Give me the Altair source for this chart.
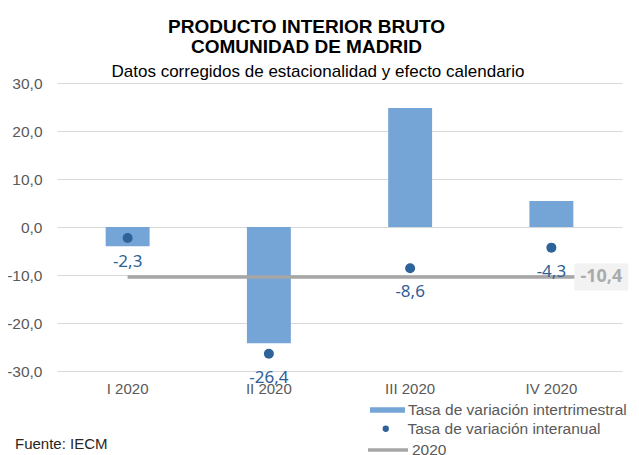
import altair as alt
import pandas as pd

# ---- data ----
trimestres = ["I 2020", "II 2020", "III 2020", "IV 2020"]
intertrimestral = [-4.0, -24.2, 24.8, 5.4]
interanual = [-2.3, -26.4, -8.6, -4.3]
anual_2020 = -10.4
serie_bar = "Tasa de variación intertrimestral"
serie_pt = "Tasa de variación interanual"
serie_line = "2020"
y_ticks = [-30, -20, -10, 0, 10, 20, 30]

df = pd.DataFrame({
    "trimestre": trimestres,
    "intertrimestral": intertrimestral,
    "interanual": interanual,
    "s_bar": [serie_bar] * 4,
    "s_pt": [serie_pt] * 4,
})
df2 = pd.DataFrame({
    "trimestre": [trimestres[0]],
    "trimestre_fin": [trimestres[-1]],
    "valor": [anual_2020],
    "s_line": [serie_line],
})
df3 = pd.DataFrame({"trimestre": [trimestres[-1]], "valor": [anual_2020]})

fmt = "replace(replace(format(datum.v, '.1f'), '.', ','), '\u2212', '-')"
fmt_axis = "replace(replace(format(datum.value, '.1f'), '.', ','), '\u2212', '-')"

xscale = alt.Scale(domain=trimestres, paddingInner=0.689, paddingOuter=0.3445)
xaxis = alt.Axis(title=None, labelAngle=0, grid=False, labelPadding=10, labelFontSize=15)
yscale = alt.Scale(domain=[-30, 30], nice=False)
yaxis = alt.Axis(title=None, values=y_ticks, labelExpr=fmt_axis, labelPadding=15,
                 labelFontSize=15.5, grid=True, gridColor="#D9D9D9", gridWidth=1)

def X(field="trimestre"):
    return alt.X(f"{field}:N", scale=xscale, axis=xaxis)

def Y(field):
    return alt.Y(f"{field}:Q", scale=yscale, axis=yaxis)

leg_common = dict(title=None, orient="none", labelFontSize=15.5, labelColor="#595959",
                  labelFont="Liberation Sans", padding=0, labelLimit=400)

bars = alt.Chart(df).mark_bar().encode(
    x=X(), y=Y("intertrimestral"),
    color=alt.Color("s_bar:N", scale=alt.Scale(domain=[serie_bar], range=["#75A5D6"]),
                    legend=alt.Legend(legendX=313, legendY=309.5,
                                      symbolType="M-1,-0.16L1,-0.16L1,0.16L-1,0.16Z",
                                      symbolSize=1225, symbolStrokeWidth=0,
                                      labelOffset=3, **leg_common)),
)

points = alt.Chart(df).mark_circle(size=100, opacity=1).encode(
    x=X(), y=Y("interanual"),
    color=alt.Color("s_pt:N", scale=alt.Scale(domain=[serie_pt], range=["#2E6399"]),
                    legend=alt.Legend(legendX=321, legendY=338, symbolType="circle",
                                      symbolSize=40, labelOffset=14, **leg_common)),
)

labels = alt.Chart(df).transform_calculate(v="datum.interanual").transform_calculate(
    lab=fmt
).mark_text(dy=24, font="Noto Sans", fontSize=17, color="#2F6096").encode(
    x=X(), y=Y("interanual"), text="lab:N"
)

rule = alt.Chart(df2).mark_rule(strokeWidth=3.5, x2Offset=24).encode(
    x=X(), x2="trimestre_fin:N", y=Y("valor"),
    color=alt.Color("s_line:N", scale=alt.Scale(domain=[serie_line], range=["#A6A6A6"]),
                    legend=alt.Legend(legendX=309, legendY=345, symbolType="stroke",
                                      symbolSize=1600, symbolStrokeWidth=3.5,
                                      labelOffset=2, **leg_common)),
)

box = alt.Chart(df3).mark_point(
    shape="M-1,-0.5L1,-0.5L1,0.5L-1,0.5Z", size=2916, filled=True, fill="#F2F2F2",
    opacity=1, strokeWidth=0, xOffset=50,
).encode(x=X(), y=Y("valor"))

box_text = alt.Chart(df3).transform_calculate(v="datum.valor").transform_calculate(
    lab=fmt
).mark_text(dx=50, font="Noto Sans", fontSize=18, fontWeight="bold", color="#ABABAB").encode(
    x=X(), y=Y("valor"), text="lab:N"
)

subtitulo = alt.Chart(df3).mark_text(
    align="center", baseline="alphabetic", font="Liberation Sans", fontSize=17, color="#000000"
).encode(x=alt.value(261), y=alt.value(-6),
         text=alt.value("Datos corregidos de estacionalidad y efecto calendario"))

fuente = alt.Chart(df3).mark_text(
    align="left", baseline="middle", font="Liberation Sans", fontSize=15, color="#262626"
).encode(x=alt.value(-42), y=alt.value(361), text=alt.value("Fuente: IECM"))

chart = alt.layer(bars, rule, points, labels, box, box_text, subtitulo, fuente).resolve_scale(
    color="independent"
).properties(
    width=565, height=288,
    autosize=alt.AutoSizeParams(type="none"),
    padding={"left": 49, "top": 75, "right": 9, "bottom": 84},
    title=alt.Title(
        ["PRODUCTO INTERIOR BRUTO", "COMUNIDAD DE MADRID"],
        font="Liberation Sans", fontSize=19, fontWeight="bold", color="#000000",
        lineHeight=20.5, anchor="middle", offset=6, dx=-33,
    ),
).configure_view(stroke=None).configure_axis(
    labelFont="Liberation Sans", labelColor="#595959",
    domain=False, ticks=False,
)

chart.save("out.html", embed_options={"renderer": "svg", "actions": False})
